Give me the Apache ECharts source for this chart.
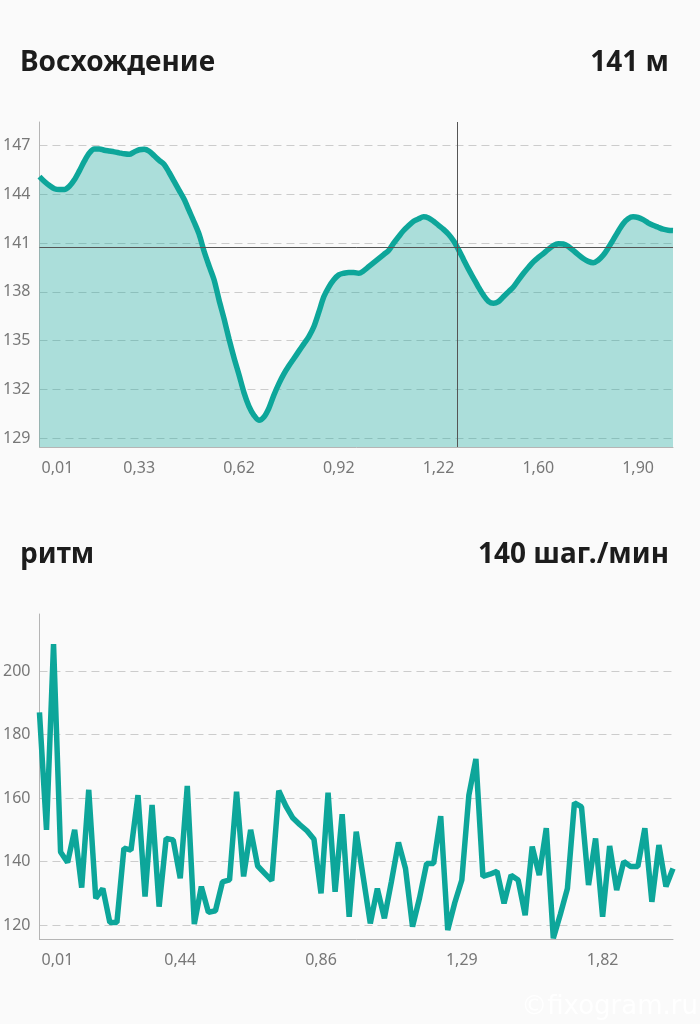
<!DOCTYPE html>
<html><head><meta charset="utf-8">
<script src="https://cdn.jsdelivr.net/npm/echarts@6/dist/echarts.min.js"></script>
<style>html,body{margin:0;padding:0;background:#fafafa}#c{width:700px;height:1024px}</style>
</head><body><div id="c"></div>
<script>
const elevationTitle = 'Восхождение';
const elevationValue = '141 м';
const cadenceTitle = 'ритм';
const cadenceValue = '140 шаг./мин';
const watermark = '©fixogram.ru';

// elevation (m), equally spaced samples along the track
const elevation = [145.1,144.8,144.55,144.35,144.3,144.3,144.5,144.9,145.45,146.05,
146.55,146.8,146.8,146.72,146.67,146.62,146.56,146.5,146.47,146.62,
146.75,146.78,146.66,146.38,146.1,145.85,145.35,144.8,144.25,143.7,
143.0,142.3,141.55,140.5,139.6,138.75,137.5,136.35,135.1,133.95,
132.9,131.8,130.95,130.4,130.1,130.3,130.85,131.65,132.35,132.95,
133.45,133.9,134.35,134.8,135.25,135.85,136.75,137.7,138.3,138.75,
139.05,139.15,139.2,139.2,139.15,139.3,139.55,139.8,140.05,140.3,
140.55,141.0,141.4,141.78,142.08,142.35,142.5,142.62,142.55,142.35,
142.1,141.85,141.55,141.15,140.6,140.0,139.4,138.85,138.3,137.8,
137.42,137.3,137.4,137.7,138.0,138.3,138.72,139.13,139.5,139.85,
140.12,140.36,140.62,140.85,140.97,140.95,140.8,140.55,140.3,140.05,
139.88,139.8,139.95,140.25,140.7,141.2,141.72,142.2,142.5,142.62,
142.58,142.45,142.25,142.1,141.98,141.86,141.8,141.78];
const elevationTicks = ['0,01','0,33','0,62','0,92','1,22','1,60','1,90'];
const elevationTickStep = 20;
const elevationCursor = [83.74, 140.75];

// cadence (steps/min)
const cadence = [187,150,208.5,143,139.7,150,131.8,162.6,128.4,131.5,
120.8,120.8,144.2,143.6,160.9,129,157.8,125.8,147.3,146.8,
134.7,163.8,120.3,132.1,124,124.5,133.6,134.2,162,135.3,
150,138.6,136.3,134,162.3,157.5,153.7,151.6,149.7,147,
130,161.7,130.5,154.9,122.6,149.4,135,120.5,131.5,122.1,
133.7,146,137.8,119.5,128.6,139.4,139.4,154.3,118.4,127,
134.2,160.9,172.3,135.3,136,136.9,126.8,135.7,134.2,123.1,
144.7,135.7,150.5,115.8,123.4,131.5,158.5,157.2,132.6,147.3,
122.6,144.9,131,140,138.4,138.4,150.5,127.3,145.2,132.1,137.8];
const cadenceTicks = ['0,01','0,44','0,86','1,29','1,82'];
const cadenceTickStep = 20;

const TEAL = '#0da69a';
const FONT = '"Noto Sans", "Open Sans", sans-serif';
const labelStyle = {color:'#777777', fontSize:16, fontFamily:FONT};

function xAxisFor(gridIndex, n, ticks, step){
  return {
    type:'value', gridIndex, min:0, max:n-1, interval:step,
    axisLine:{show:true, lineStyle:{color:'#b5b5b5', width:1}},
    axisTick:{show:false}, splitLine:{show:false},
    axisLabel:Object.assign({}, labelStyle, {
      margin:13, showMaxLabel:false,
      formatter:(v)=>{
        if (v % step !== 0) return '';
        const t = ticks[v/step];
        if (t === undefined) return '';
        return v === 0 ? '{first|' + t + '}' : t;
      },
      rich:{first:Object.assign({}, labelStyle, {padding:[0,0,0,36]})}
    })
  };
}
function yAxisFor(gridIndex, min, max, step){
  return {
    type:'value', gridIndex, min, max, minInterval:step, maxInterval:step, splitNumber:6,
    axisLine:{show:true, lineStyle:{color:'#b5b5b5', width:1}},
    axisTick:{show:false},
    splitLine:{show:true, showMinLine:false, showMaxLine:false,
      lineStyle:{color:'#cccccc', width:1, type:[8,5]}},
    axisLabel:Object.assign({}, labelStyle, {margin:9, showMinLabel:false, showMaxLabel:false})
  };
}

const chart = echarts.init(document.getElementById('c'), null, {renderer:'canvas'});
chart.setOption({
  backgroundColor:'#fafafa',
  animation:false,
  grid:[
    {left:38, right:27, top:122, height:325},
    {left:38, right:27, top:614, height:325.3}
  ],
  xAxis:[
    xAxisFor(0, elevation.length, elevationTicks, elevationTickStep),
    xAxisFor(1, cadence.length, cadenceTicks, cadenceTickStep)
  ],
  yAxis:[
    yAxisFor(0, 128.45, 148.46, 3),
    yAxisFor(1, 115.5, 218, 20)
  ],
  series:[
    {type:'line', xAxisIndex:0, yAxisIndex:0, data:elevation.map((v,i)=>[i,v]),
     showSymbol:false, smooth:0.3,
     lineStyle:{color:TEAL, width:5.5},
     areaStyle:{color:TEAL, opacity:0.33},
     markLine:{silent:true, symbol:'none', label:{show:false},
       lineStyle:{color:'#555555', width:1, type:'solid'},
       data:[{yAxis:elevationCursor[1]}, {xAxis:elevationCursor[0]}]}},
    {type:'line', xAxisIndex:1, yAxisIndex:1, data:cadence.map((v,i)=>[i,v]),
     showSymbol:false, lineStyle:{color:TEAL, width:5.5}}
  ],
  graphic:[
    {type:'text', x:20, y:63, style:{text:elevationTitle, font:'bold 28px '+FONT, fill:'#1c1c1c', verticalAlign:'middle'}},
    {type:'text', x:669, y:63, style:{text:elevationValue, font:'bold 28px '+FONT, fill:'#1c1c1c', align:'right', verticalAlign:'middle'}},
    {type:'text', x:20, y:555, style:{text:cadenceTitle, font:'bold 28px '+FONT, fill:'#1c1c1c', verticalAlign:'middle'}},
    {type:'text', x:669, y:555, style:{text:cadenceValue, font:'bold 28px '+FONT, fill:'#1c1c1c', align:'right', verticalAlign:'middle'}},
    {type:'text', x:698, y:1007, style:{text:watermark, font:'26px "DejaVu Sans", sans-serif', fill:'rgba(255,255,255,0.95)', align:'right', verticalAlign:'middle'}}
  ]
});
</script></body></html>
